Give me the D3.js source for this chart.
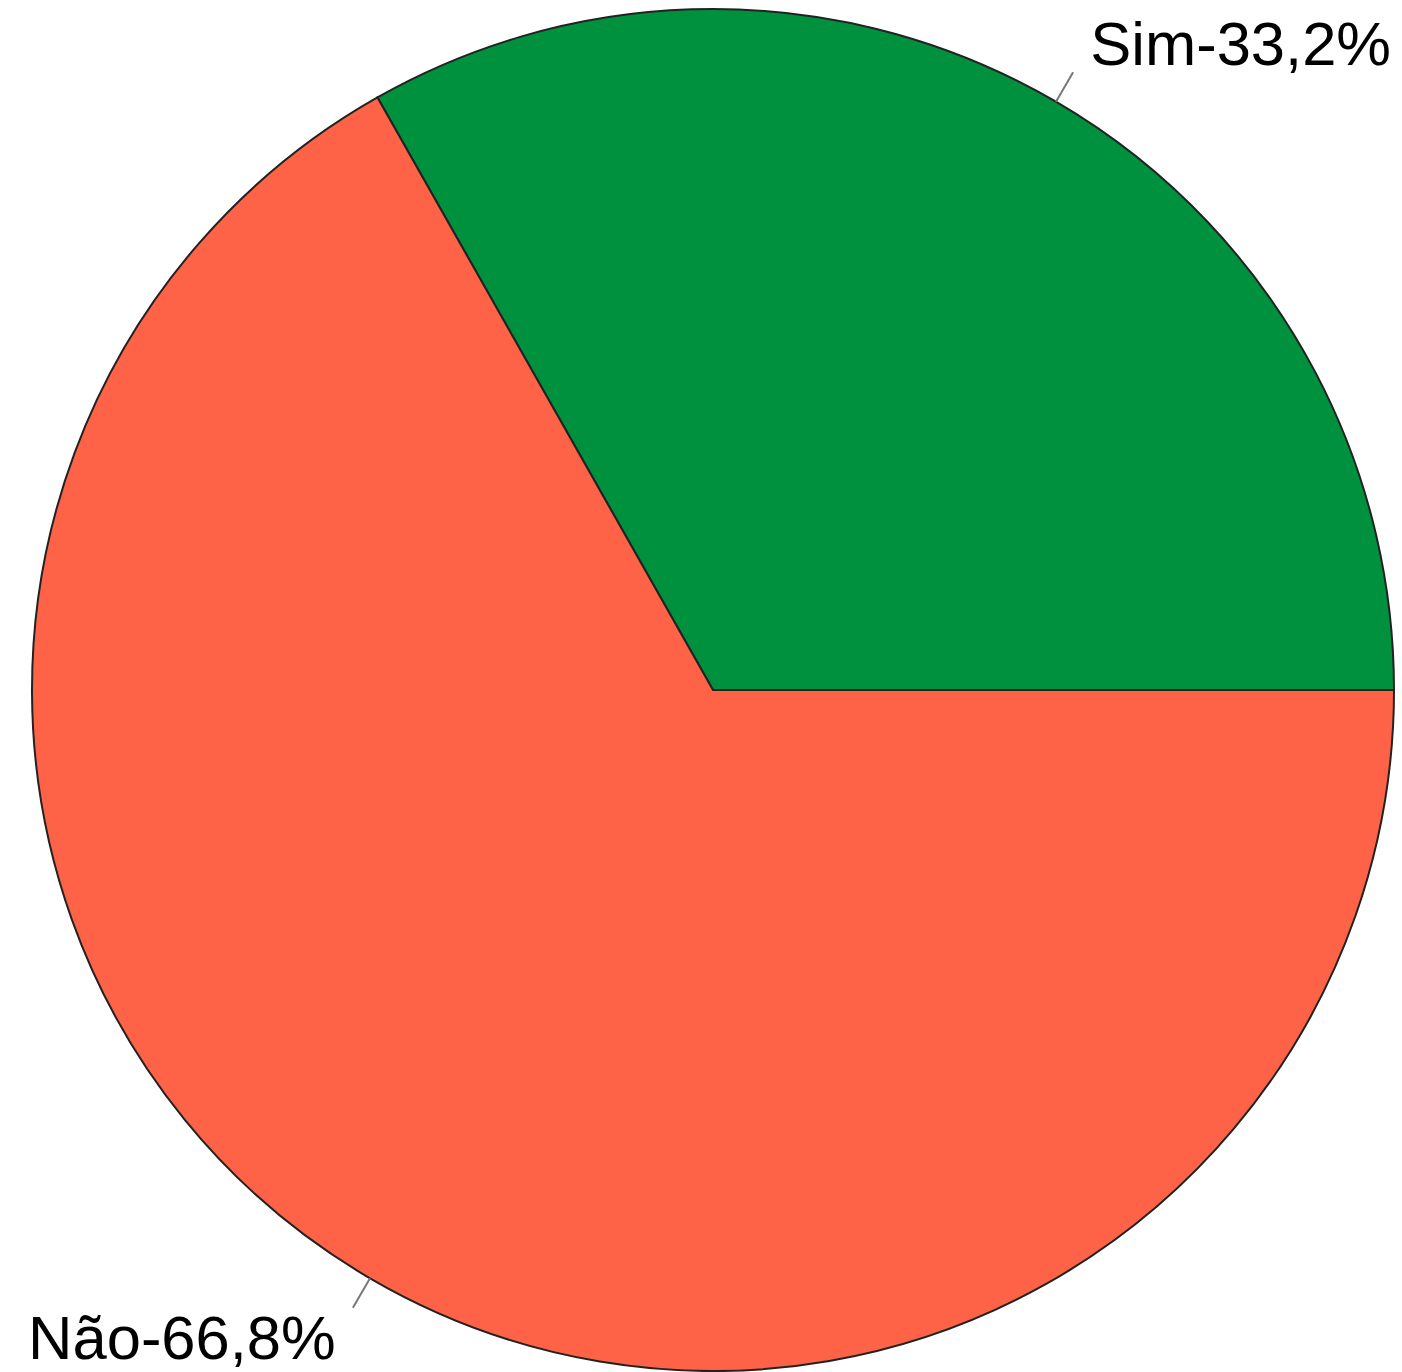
<!DOCTYPE html>
<html>
<head>
<meta charset="utf-8">
<script src="https://cdn.jsdelivr.net/npm/d3@7"></script>
<style>
  body { margin: 0; background: #fff; }
  svg { display: block; }
</style>
</head>
<body>
<script>
// ----------------------------------------- Data ----------------------------------------- //
var categories = ["Sim", "Não"];
var values = [33.2, 66.8];
var colors = ["#00913F", "#FF6347"];

// ----------------------------------------- Setup ---------------------------------------- //
var width = 1402,
    height = 1372,
    cx = 713,
    cy = 690,
    radius = 681;

var svg = d3.select("body")
    .append("svg")
    .attr("width", width)
    .attr("height", height);
var g = svg.append("g")
    .attr("transform", "translate(" + cx + "," + cy + ")");

// R style pie: starts at 3 o'clock, runs counter-clockwise
var pie = d3.pie()
    .sort(null)
    .value(function(d) { return d; })
    .startAngle(Math.PI / 2)
    .endAngle(Math.PI / 2 - 2 * Math.PI);

var arc = d3.arc()
    .innerRadius(0)
    .outerRadius(radius);

var arcs = pie(values);

g.selectAll("path.slice")
    .data(arcs)
    .enter().append("path")
        .attr("class", "slice")
        .attr("d", arc)
        .attr("fill", function(d, i) { return colors[i]; })
        .attr("stroke", "#222")
        .attr("stroke-width", 2);

// point on circle for d3 angle (clockwise from 12 o'clock)
function pt(a, r) {
    return [Math.sin(a) * r, -Math.cos(a) * r];
}

// label lines + labels
arcs.forEach(function(d, i) {
    var mid = (d.startAngle + d.endAngle) / 2;
    var p0 = pt(mid, radius),
        p1 = pt(mid, radius * 1.05),
        p2 = pt(mid, radius * 1.1);
    g.append("line")
        .attr("x1", p0[0]).attr("y1", p0[1])
        .attr("x2", p1[0]).attr("y2", p1[1])
        .attr("stroke", "#777")
        .attr("stroke-width", 2);
    g.append("text")
        .attr("x", p2[0])
        .attr("y", p2[1])
        .attr("dy", "0.36em")
        .attr("text-anchor", p2[0] > 0 ? "start" : "end")
        .attr("font-family", "Liberation Sans, Arial, sans-serif")
        .attr("font-size", 61.5)
        .attr("fill", "#000")
        .text(categories[i] + "-" + String(values[i]).replace(".", ",") + "%");
});
</script>
</body>
</html>
